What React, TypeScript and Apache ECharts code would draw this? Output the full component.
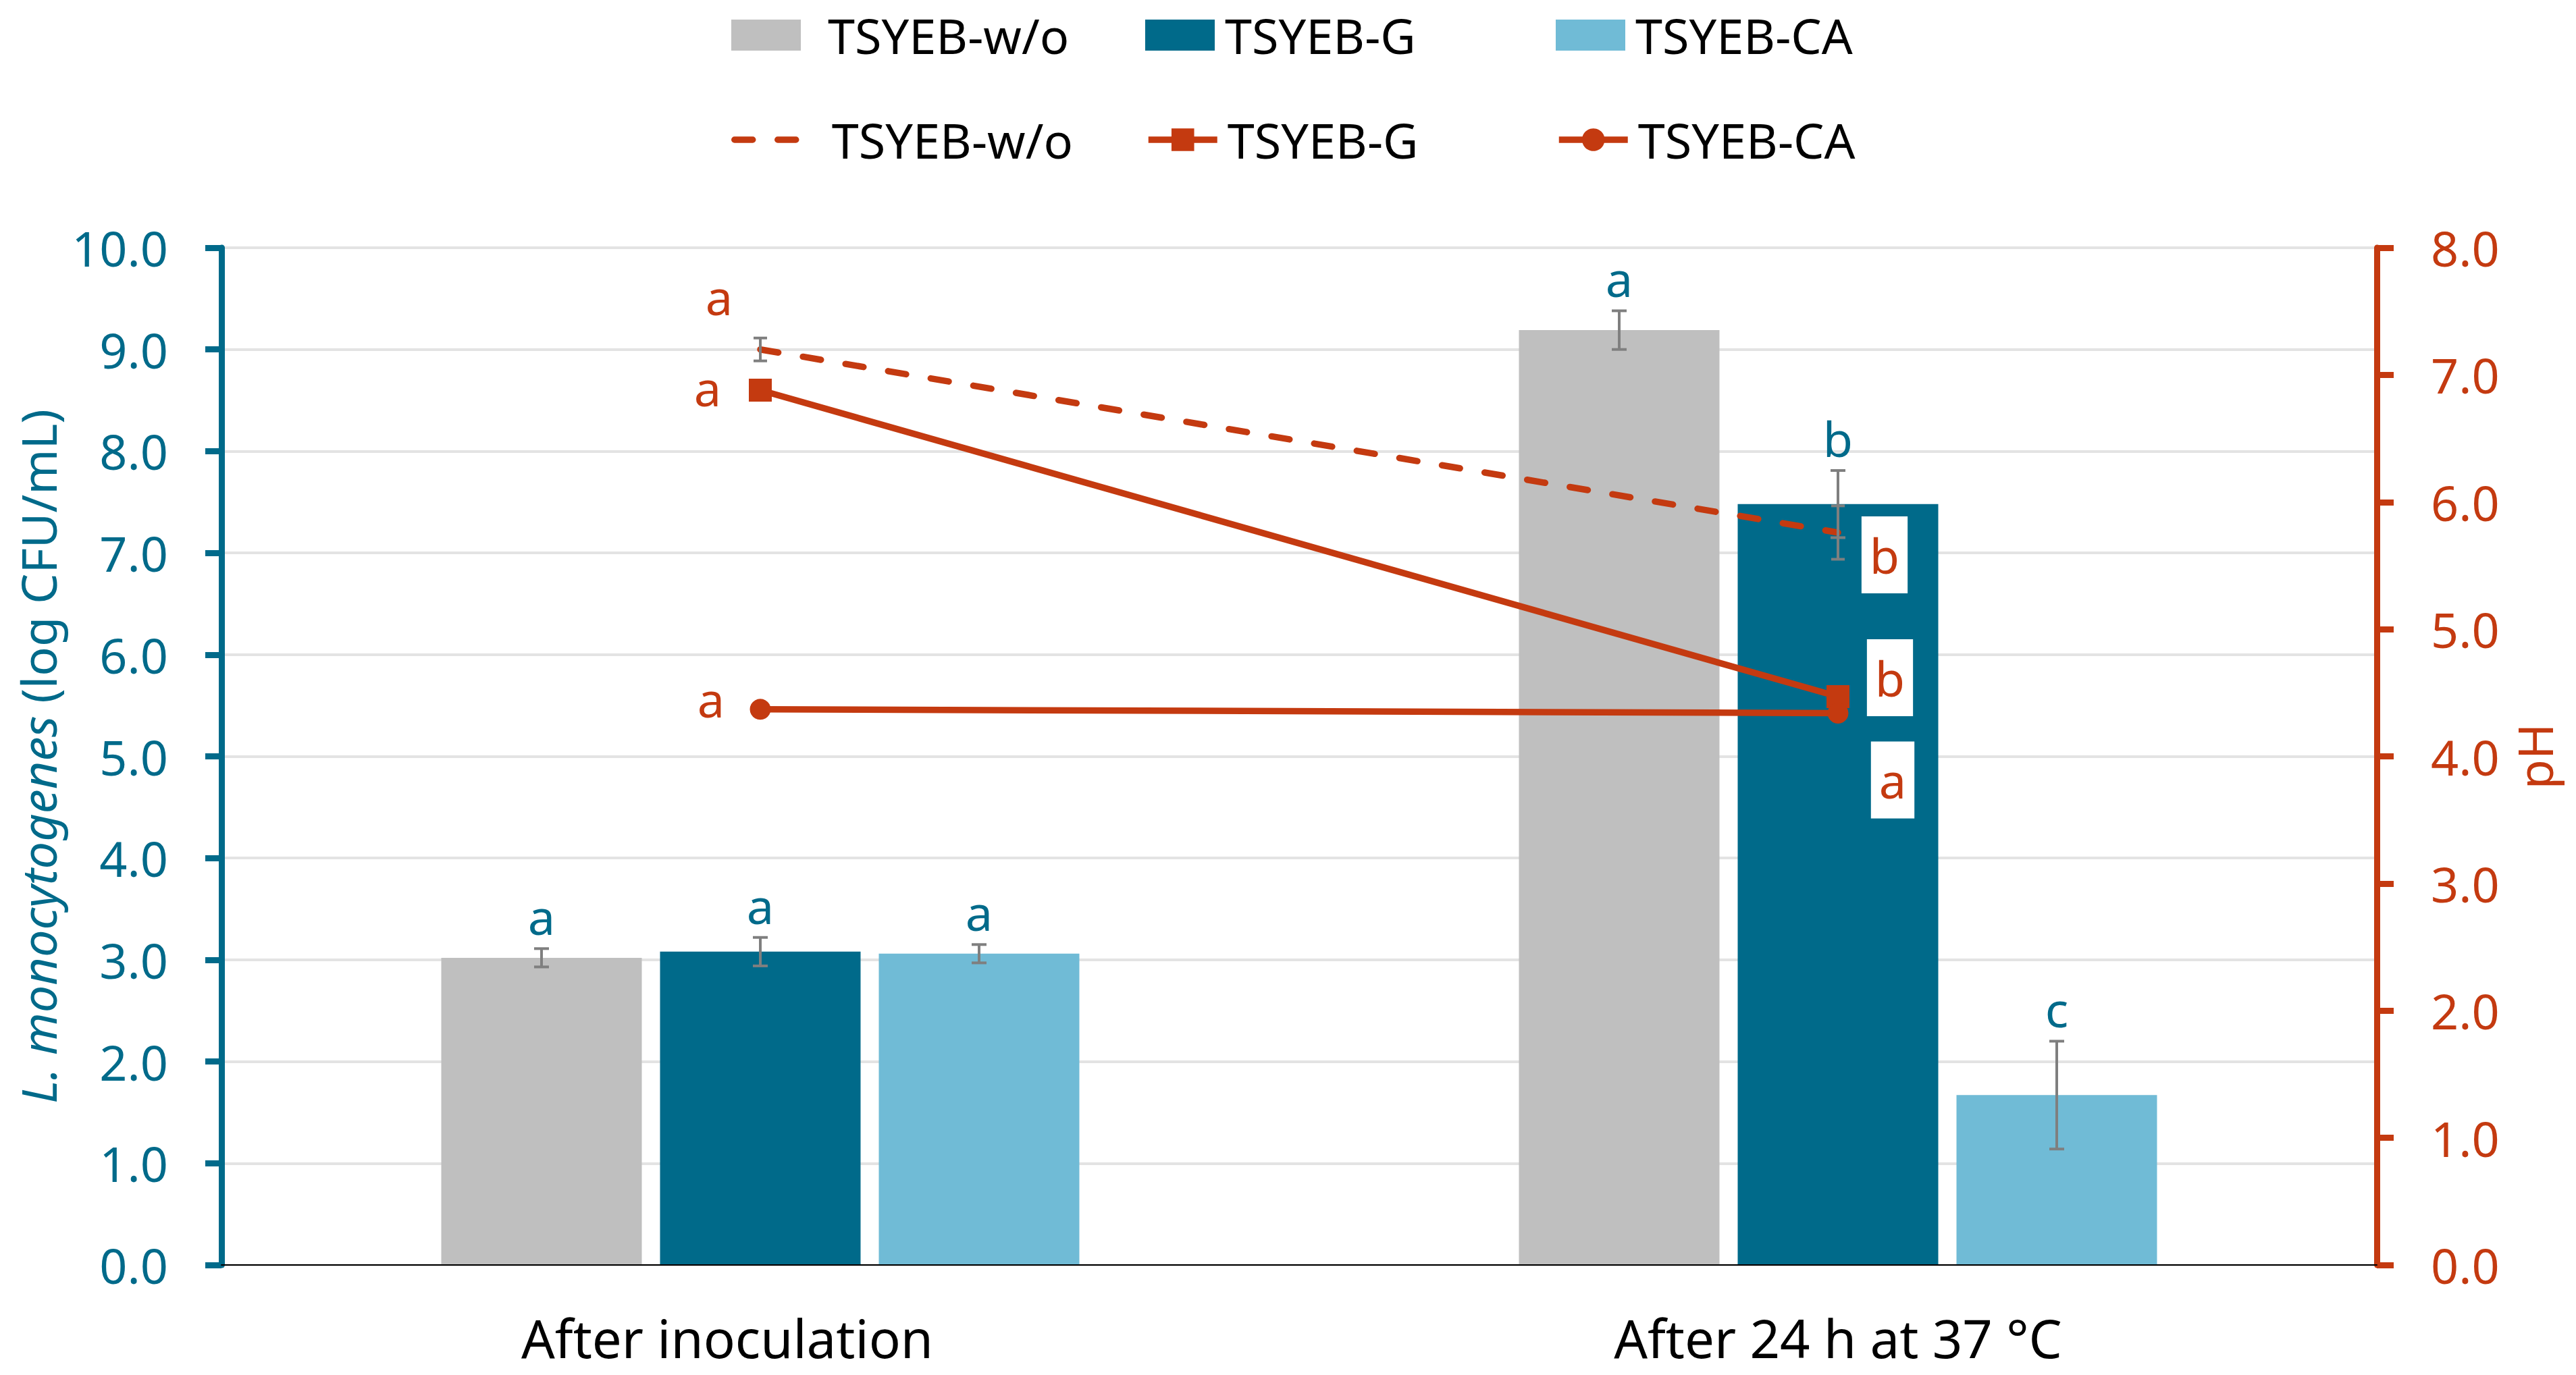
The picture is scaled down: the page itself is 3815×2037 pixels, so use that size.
import React, { useEffect, useRef } from 'react';
import * as echarts from 'echarts';

// ---------- data ----------
const categories = ['After inoculation', 'After 24 h at 37 °C'];
const seriesNames = ['TSYEB-w/o', 'TSYEB-G', 'TSYEB-CA'];

// L. monocytogenes counts (log CFU/mL), left axis
const countWo = [3.02, 9.19];
const countG = [3.08, 7.48];
const countCA = [3.06, 1.67];
const countErrWo = [0.09, 0.19];
const countErrG = [0.14, 0.33];
const countErrCA = [0.09, 0.53];
const countLettersWo = ['a', 'a'];
const countLettersG = ['a', 'b'];
const countLettersCA = ['a', 'c'];

// pH, right axis
const phWo = [7.2, 5.76];
const phG = [6.88, 4.47];
const phCA = [4.37, 4.34];
const phErrWo = [0.09, 0.21];
const phErrG = [0, 0];
const phErrCA = [0, 0];
const phLettersWo = ['a', 'b'];
const phLettersG = ['a', 'b'];
const phLettersCA = ['a', 'a'];

const leftAxisRange = [0, 10, 1];
const rightAxisRange = [0, 8, 1];

// ---------- styles ----------
const FONT = "'Noto Sans', 'Open Sans', sans-serif";
const TEAL = '#006A8A';
const LIGHT = '#70BBD6';
const GRAY = '#BFBFBF';
const ORANGE = '#C43A10';
const ERR = '#7F7F7F';
const GRID = '#E3E3E3';
const BAR_W = 297;
const BAR_GAP = 27;
const LINE_W = 9.5;

// label layout for pH letters (offset of letter centre from the point, px)
const phLabelLayout = {
  wo: [
    { dx: -61, dy: -70, box: false },
    { dx: 69, dy: 33, box: true },
  ],
  g: [
    { dx: -78, dy: 5, box: false },
    { dx: 77, dy: -28, box: true },
  ],
  ca: [
    { dx: -73, dy: -7, box: false },
    { dx: 81, dy: 99, box: true },
  ],
};

function barErrSeries(idx: number, values: number[], errs: number[], letters: string[]) {
  return {
    type: 'custom',
    name: 'count-err-' + idx,
    xAxisIndex: 0,
    yAxisIndex: 0,
    z: 6,
    silent: true,
    data: values.map((v, i) => [i, v, errs[i]]),
    encode: { x: 0, y: 1 },
    renderItem: (params: any, api: any) => {
      const i = api.value(0);
      const v = api.value(1);
      const e = api.value(2);
      const off = (idx - 1) * (BAR_W + BAR_GAP);
      const c = api.coord([i, v]);
      const x = c[0] + off;
      const yTop = api.coord([i, v + e])[1];
      const yBot = api.coord([i, v - e])[1];
      const ls = { stroke: ERR, lineWidth: 4 };
      return {
        type: 'group',
        children: [
          { type: 'line', shape: { x1: x, y1: yTop, x2: x, y2: yBot }, style: ls },
          { type: 'line', shape: { x1: x - 11, y1: yTop, x2: x + 11, y2: yTop }, style: ls },
          { type: 'line', shape: { x1: x - 11, y1: yBot, x2: x + 11, y2: yBot }, style: ls },
          {
            type: 'text',
            x,
            y: yTop - 48,
            style: {
              text: letters[params.dataIndex],
              fill: TEAL,
              fontSize: 72,
              fontFamily: FONT,
              align: 'center',
              verticalAlign: 'middle',
            },
          },
        ],
      };
    },
  };
}

function phAnnoSeries(key: string, values: number[], errs: number[], letters: string[], layout: any[]) {
  return {
    type: 'custom',
    name: 'ph-anno-' + key,
    xAxisIndex: 0,
    yAxisIndex: 1,
    z: 8,
    silent: true,
    data: values.map((v, i) => [i, v, errs[i]]),
    encode: { x: 0, y: 1 },
    renderItem: (params: any, api: any) => {
      const i = api.value(0);
      const v = api.value(1);
      const e = api.value(2);
      const c = api.coord([i, v]);
      const x = c[0];
      const children: any[] = [];
      if (e > 0) {
        const yTop = api.coord([i, v + e])[1];
        const yBot = api.coord([i, v - e])[1];
        const ls = { stroke: ERR, lineWidth: 4 };
        children.push(
          { type: 'line', z2: 1, shape: { x1: x, y1: yTop, x2: x, y2: yBot }, style: ls },
          { type: 'line', z2: 1, shape: { x1: x - 10, y1: yTop, x2: x + 10, y2: yTop }, style: ls },
          { type: 'line', z2: 1, shape: { x1: x - 10, y1: yBot, x2: x + 10, y2: yBot }, style: ls }
        );
      }
      const lay = layout[params.dataIndex];
      const style: any = {
        text: letters[params.dataIndex],
        fill: ORANGE,
        fontSize: 72,
        fontFamily: FONT,
        align: 'center',
        verticalAlign: 'middle',
      };
      if (lay.box) {
        style.backgroundColor = '#ffffff';
        style.padding = [21, 12];
        style.lineHeight = 72;
      }
      children.push({
        type: 'text',
        z2: 5,
        x: x + lay.dx,
        y: c[1] + lay.dy - (lay.box ? 0 : 9),
        style,
      });
      return { type: 'group', children };
    },
  };
}

function legendItem(name: string, left: number, top: number, w: number, h: number, pad: number, extra: any = {}) {
  return {
    show: true,
    data: [name],
    left,
    top,
    itemWidth: w,
    itemHeight: h,
    itemGap: 0,
    padding: 0,
    selectedMode: false,
    formatter: (n: string) => n.replace(' (pH)', ''),
    textStyle: {
      fontFamily: FONT,
      fontSize: 72,
      color: '#000',
      lineHeight: 72,
      padding: [0, 0, 0, pad],
    },
    ...extra,
  };
}

function buildOption() {
  const axisLabelFmt = (v: number) => v.toFixed(1);
  const lineNames = seriesNames.map((n) => n + ' (pH)');
  const dashed = [27, 37];
  const catLabelStyle = { color: '#000', fontFamily: FONT, fontSize: 78, lineHeight: 78 };
  return {
    animation: false,
    backgroundColor: '#ffffff',
    grid: { left: 328, right: 295, top: 367, bottom: 163, containLabel: false },
    legend: [
      legendItem(seriesNames[0], 1083, 16, 103, 46, 35, { icon: 'rect' }),
      legendItem(seriesNames[1], 1696, 16, 103, 46, 10, { icon: 'rect' }),
      legendItem(seriesNames[2], 2304, 16, 103, 46, 10, { icon: 'rect' }),
      legendItem(lineNames[0], 1083, 171, 91, 42, 48, {
        lineStyle: { width: LINE_W },
        itemStyle: { opacity: 0 },
      }),
      legendItem(lineNames[1], 1696, 171, 102, 42, 10, { lineStyle: { width: LINE_W } }),
      legendItem(lineNames[2], 2304, 171, 102, 42, 10, { lineStyle: { width: LINE_W } }),
    ],
    xAxis: {
      type: 'category',
      data: categories,
      z: 10,
      axisLine: { show: true, lineStyle: { color: '#000', width: 2 } },
      axisTick: { show: false },
      splitLine: { show: false },
      axisLabel: {
        ...catLabelStyle,
        margin: 69,
        formatter: (v: string, i: number) => (i === 0 ? '{s|' + v + '}' : v),
        rich: { s: { ...catLabelStyle, padding: [0, 98, 0, 0] } },
      },
    },
    yAxis: [
      {
        type: 'value',
        position: 'left',
        min: leftAxisRange[0],
        max: leftAxisRange[1],
        interval: leftAxisRange[2],
        name: '{i|L. monocytogenes} (log CFU/mL)',
        nameLocation: 'middle',
        nameGap: 236,
        nameTextStyle: {
          color: TEAL,
          fontFamily: FONT,
          fontSize: 72,
          rich: {
            i: { fontStyle: 'italic', color: TEAL, fontFamily: FONT, fontSize: 72 },
          },
        },
        axisLine: { show: true, lineStyle: { color: TEAL, width: 9 } },
        axisTick: { show: true, inside: false, length: 24, lineStyle: { color: TEAL, width: 9 } },
        splitLine: { show: true, lineStyle: { color: GRID, width: 4 } },
        axisLabel: { color: TEAL, fontFamily: FONT, fontSize: 72, margin: 79, formatter: axisLabelFmt },
      },
      {
        type: 'value',
        position: 'right',
        min: rightAxisRange[0],
        max: rightAxisRange[1],
        interval: rightAxisRange[2],
        name: 'pH',
        nameLocation: 'middle',
        nameGap: 197,
        nameTextStyle: { color: ORANGE, fontFamily: FONT, fontSize: 72 },
        axisLine: { show: true, lineStyle: { color: ORANGE, width: 9 } },
        axisTick: { show: true, inside: false, length: 25, lineStyle: { color: ORANGE, width: 9 } },
        splitLine: { show: false },
        axisLabel: { color: ORANGE, fontFamily: FONT, fontSize: 72, margin: 80, formatter: axisLabelFmt },
      },
    ],
    series: [
      {
        type: 'bar',
        name: seriesNames[0],
        yAxisIndex: 0,
        data: countWo,
        barWidth: BAR_W,
        barGap: ((BAR_GAP / BAR_W) * 100).toFixed(2) + '%',
        itemStyle: { color: GRAY },
        z: 2,
      },
      {
        type: 'bar',
        name: seriesNames[1],
        yAxisIndex: 0,
        data: countG,
        barWidth: BAR_W,
        barGap: ((BAR_GAP / BAR_W) * 100).toFixed(2) + '%',
        itemStyle: { color: TEAL },
        z: 2,
      },
      {
        type: 'bar',
        name: seriesNames[2],
        yAxisIndex: 0,
        data: countCA,
        barWidth: BAR_W,
        barGap: ((BAR_GAP / BAR_W) * 100).toFixed(2) + '%',
        itemStyle: { color: LIGHT },
        z: 2,
      },
      barErrSeries(0, countWo, countErrWo, countLettersWo),
      barErrSeries(1, countG, countErrG, countLettersG),
      barErrSeries(2, countCA, countErrCA, countLettersCA),
      phAnnoSeries('wo', phWo, phErrWo, phLettersWo, phLabelLayout.wo),
      phAnnoSeries('g', phG, phErrG, phLettersG, phLabelLayout.g),
      phAnnoSeries('ca', phCA, phErrCA, phLettersCA, phLabelLayout.ca),
      {
        type: 'line',
        name: lineNames[0],
        yAxisIndex: 1,
        data: phWo,
        symbol: 'none',
        z: 7,
        itemStyle: { color: ORANGE },
        lineStyle: { color: ORANGE, width: LINE_W, type: dashed, cap: 'round' },
      },
      {
        type: 'line',
        name: lineNames[1],
        yAxisIndex: 1,
        data: phG,
        symbol: 'rect',
        symbolSize: 34,
        z: 7,
        itemStyle: { color: ORANGE },
        lineStyle: { color: ORANGE, width: LINE_W },
      },
      {
        type: 'line',
        name: lineNames[2],
        yAxisIndex: 1,
        data: phCA,
        symbol: 'circle',
        symbolSize: 31,
        z: 7,
        itemStyle: { color: ORANGE },
        lineStyle: { color: ORANGE, width: LINE_W },
      },
    ],
  };
}

export default function App() {
  const ref = useRef<HTMLDivElement | null>(null);
  useEffect(() => {
    document.body.style.margin = '0';
    document.body.style.overflow = 'hidden';
    if (!ref.current) return;
    const chart = echarts.init(ref.current, undefined, { renderer: 'svg' });
    chart.setOption(buildOption() as any);
    return () => {
      chart.dispose();
    };
  }, []);
  return <div ref={ref} style={{ width: 3815, height: 2037, background: '#fff' }} />;
}
